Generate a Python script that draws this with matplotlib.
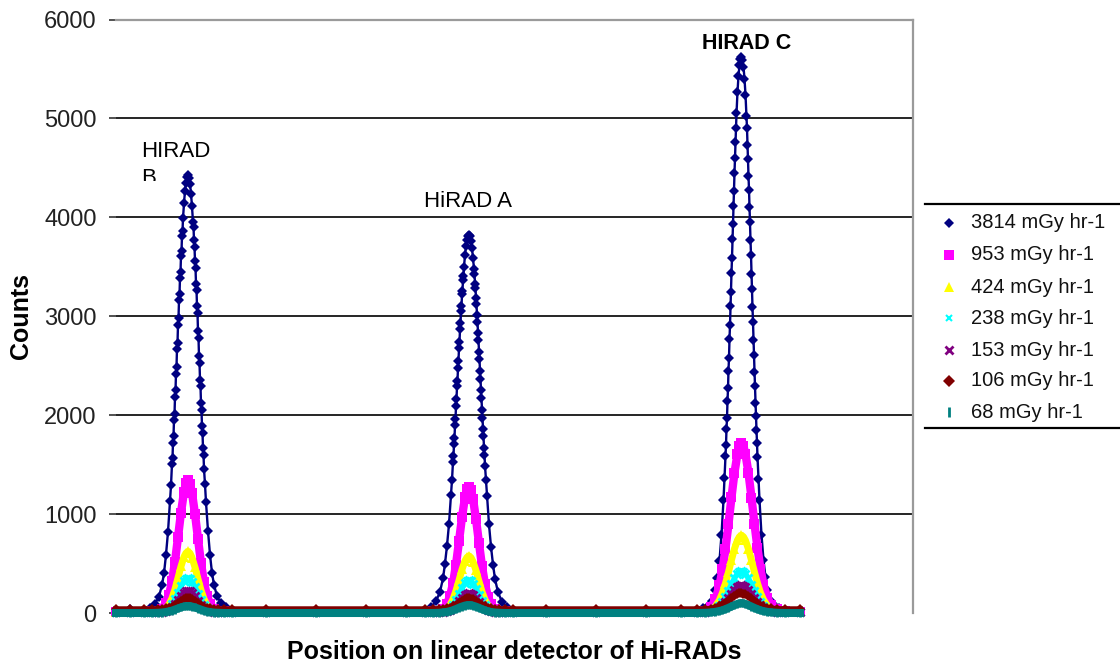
import numpy as np
import matplotlib
matplotlib.use("Agg")
import matplotlib.pyplot as plt
from matplotlib.lines import Line2D
from matplotlib.transforms import Bbox

plt.rcParams['font.family'] = ['Liberation Sans', 'DejaVu Sans']

# ---------------- data ----------------
series_labels = ["3814 mGy hr-1", "953 mGy hr-1", "424 mGy hr-1", "238 mGy hr-1",
                 "153 mGy hr-1", "106 mGy hr-1", "68 mGy hr-1"]
peak_labels = ["HIRAD", "HiRAD A", "HIRAD C"]
y_ticks = [0, 1000, 2000, 3000, 4000, 5000, 6000]

# detector channel of each Hi-RAD peak centre
peak_channels = [72, 353, 625.5]
# channels read around each peak (relative to centre)
fine_offsets = [-44, -38, -33, -29, -26, -24, -22, -20, -18, -17,
                -16, -15.5, -15, -14.5, -14, -13.5, -13, -12.5, -12, -11.5, -11, -10.5,
                -10, -9.5, -9, -8.5, -8, -7.5, -7, -6.5, -6, -5.5, -5,
                -4, -3, -2, -1, 0, 1, 2, 3, 4,
                5, 5.5, 6, 6.5, 7, 7.5, 8, 8.5, 9, 9.5, 10, 10.5, 11, 11.5,
                12, 12.5, 13, 13.5, 14, 14.5, 15, 15.5, 16,
                17, 18, 20, 22, 24, 26, 29, 33, 38, 44]
coarse_offsets = [-44, -36, -30, -26, -22, -19, -16, -13, -10, -7, -4, -2, 0,
                  2, 4, 7, 10, 13, 16, 19, 22, 26, 30, 36, 44]
lead_channels = [0, 14]
gap1_channels = [150, 200, 250, 290]
gap2_channels = [430, 480, 530, 565]
tail_channels = [684]

# counts: lead, peak B, gap, peak A, gap, peak C, tail
counts_3814 = (
    [22, 38] +
    [30, 55, 95, 165, 285, 400, 590, 820, 1130, 1290,
     1510, 1570, 1720, 1790, 1950, 2010, 2180, 2250, 2420, 2490, 2670, 2730,
     2910, 2980, 3160, 3220, 3390, 3450, 3610, 3660, 3810, 3860, 3990,
     4140, 4270, 4350, 4410, 4425, 4400, 4340, 4240, 4110,
     3950, 3900, 3770, 3700, 3560, 3490, 3330, 3270, 3100, 3030, 2850, 2780,
     2600, 2530, 2360, 2290, 2120, 2050, 1890, 1820, 1670, 1600, 1460,
     1300, 1120, 830, 590, 405, 285, 170, 100, 60, 30] +
    [30, 22, 28, 24] +
    [28, 60, 118, 215, 350, 500, 680, 900, 1190, 1345,
     1530, 1590, 1710, 1770, 1900, 1960, 2090, 2160, 2290, 2350, 2480, 2550,
     2680, 2740, 2870, 2930, 3050, 3100, 3220, 3260, 3370, 3410, 3500,
     3620, 3710, 3775, 3815, 3825, 3810, 3760, 3690, 3590,
     3480, 3430, 3330, 3285, 3180, 3120, 3010, 2945, 2830, 2760, 2640, 2565,
     2445, 2370, 2250, 2170, 2050, 1975, 1860, 1785, 1670, 1600, 1490,
     1340, 1180, 895, 670, 490, 345, 210, 112, 58, 27] +
    [26, 20, 30, 25] +
    [28, 50, 72, 125, 230, 355, 530, 790, 1140, 1360,
     1590, 1700, 1860, 1970, 2140, 2270, 2450, 2580, 2770, 2910, 3100, 3250,
     3440, 3590, 3780, 3930, 4110, 4270, 4450, 4600, 4760, 4900, 5050,
     5270, 5430, 5540, 5600, 5625, 5595, 5520, 5400, 5240,
     5020, 4900, 4730, 4590, 4420, 4280, 4100, 3950, 3770, 3620, 3430, 3280,
     3090, 2940, 2755, 2610, 2435, 2290, 2125, 1990, 1845, 1720, 1580,
     1355, 1140, 790, 535, 360, 235, 130, 78, 52, 30] +
    [22]
)
counts_953 = (
    [15, 15] +
    [15, 18, 25, 45, 100, 180, 320, 520, 765, 1015, 1225, 1310, 1340,
     1305, 1215, 1000, 750, 505, 310, 175, 95, 42, 24, 17, 14] +
    [14, 14, 14, 14] +
    [14, 16, 22, 40, 92, 170, 300, 490, 725, 968, 1170, 1250, 1278,
     1240, 1155, 950, 705, 475, 290, 165, 90, 40, 22, 16, 14] +
    [14, 14, 14, 14] +
    [15, 25, 65, 140, 280, 440, 650, 900, 1170, 1420, 1610, 1690, 1715,
     1685, 1605, 1415, 1165, 900, 655, 445, 285, 150, 80, 40, 20] +
    [15]
)
counts_424 = (
    [12, 12] +
    [12, 13, 16, 25, 48, 88, 150, 242, 355, 472, 568, 607, 622,
     604, 560, 462, 344, 232, 142, 82, 45, 22, 15, 12, 12] +
    [12, 12, 12, 12] +
    [12, 13, 15, 24, 45, 82, 140, 226, 330, 440, 528, 563, 577,
     560, 520, 430, 320, 216, 135, 78, 42, 22, 15, 13, 12] +
    [12, 12, 12, 12] +
    [12, 16, 35, 68, 132, 205, 300, 415, 537, 650, 737, 772, 786,
     770, 733, 645, 532, 412, 300, 205, 135, 72, 40, 22, 14] +
    [12]
)
counts_238 = (
    [10, 10] +
    [10, 11, 13, 18, 30, 52, 88, 140, 202, 268, 320, 343, 352,
     340, 316, 260, 194, 131, 82, 48, 28, 16, 12, 10, 10] +
    [10, 10, 10, 10] +
    [10, 11, 13, 18, 29, 50, 83, 132, 190, 252, 302, 323, 331,
     320, 298, 246, 183, 124, 78, 46, 27, 16, 12, 11, 10] +
    [10, 10, 10, 10] +
    [10, 13, 22, 40, 74, 112, 165, 226, 292, 352, 399, 418, 426,
     417, 396, 349, 288, 223, 164, 112, 74, 42, 25, 15, 11] +
    [10]
)
counts_153 = (
    [8, 8] +
    [8, 9, 11, 14, 22, 35, 58, 92, 131, 172, 206, 220, 226,
     219, 203, 167, 125, 85, 54, 33, 20, 13, 10, 9, 8] +
    [8, 8, 8, 8] +
    [8, 9, 10, 13, 20, 32, 52, 82, 117, 154, 183, 196, 201,
     194, 180, 149, 111, 76, 48, 30, 19, 13, 10, 9, 8] +
    [8, 8, 8, 8] +
    [8, 10, 16, 28, 50, 76, 110, 150, 194, 234, 265, 278, 284,
     277, 263, 232, 192, 148, 110, 76, 50, 30, 18, 11, 9] +
    [8]
)
counts_106 = (
    [40, 40] +
    [40, 40, 40, 42, 47, 54, 65, 81, 102, 123, 140, 147, 151,
     147, 139, 121, 100, 80, 64, 53, 47, 42, 40, 40, 40] +
    [40, 40, 40, 40] +
    [40, 40, 40, 42, 48, 55, 66, 83, 104, 124, 141, 148, 150,
     146, 138, 122, 102, 82, 66, 54, 47, 42, 41, 40, 40] +
    [40, 40, 40, 40] +
    [40, 41, 45, 53, 66, 81, 101, 125, 150, 173, 191, 198, 200,
     197, 189, 171, 148, 123, 100, 81, 66, 54, 46, 42, 40] +
    [40]
)
counts_68 = (
    [0, 0] +
    [0, 0, 2, 5, 10, 16, 24, 35, 46, 57, 66, 69, 70,
     69, 65, 56, 45, 34, 23, 15, 9, 4, 2, 0, 0] +
    [0, 0, 0, 0] +
    [0, 0, 2, 6, 11, 18, 28, 40, 53, 65, 75, 79, 80,
     79, 74, 64, 52, 39, 27, 17, 10, 5, 2, 0, 0] +
    [0, 0, 0, 0] +
    [0, 2, 6, 12, 20, 28, 39, 52, 66, 80, 92, 98, 100,
     98, 91, 79, 65, 51, 38, 27, 19, 11, 6, 2, 0] +
    [0]
)

all_counts = [counts_3814, counts_953, counts_424, counts_238,
              counts_153, counts_106, counts_68]


def build_channels(offsets):
    parts = [lead_channels]
    for centre, gap in zip(peak_channels, [gap1_channels, gap2_channels, tail_channels]):
        parts.append([centre + o for o in offsets])
        parts.append(gap)
    return np.concatenate(parts)


fine_x = build_channels(fine_offsets)
coarse_x = build_channels(coarse_offsets)

styles = [
    dict(color='#000080', lw=1.7, marker='D', ms=5.0, mew=0),
    dict(color='#FF00FF', lw=6.0, marker='s', ms=6.5, mew=0),
    dict(color='#FFFF00', lw=5.0, marker='^', ms=6.5, mew=0),
    dict(color='#00FFFF', lw=4.0, marker='x', ms=5.5, mew=2),
    dict(color='#800080', lw=4.0, marker='x', ms=5.5, mew=2),
    dict(color='#800000', lw=4.0, marker='D', ms=5, mew=0),
    dict(color='#008080', lw=5.8, marker='|', ms=5.5, mew=2),
]
legend_markers = [
    dict(marker='D', ms=5.5, mew=0),
    dict(marker='s', ms=7, mew=0),
    dict(marker='^', ms=7, mew=0),
    dict(marker='x', ms=5, mew=1.5),
    dict(marker='x', ms=5.5, mew=2),
    dict(marker='D', ms=6, mew=0),
    dict(marker='|', ms=7, mew=2),
]

# ---------------- figure ----------------
W, H = 1120, 664
fig = plt.figure(figsize=(W / 100, H / 100), dpi=100)
ax = fig.add_axes([116 / W, 1 - 613 / H, (913 - 116) / W, (613 - 19.5) / H])


def fx(px):
    return px / W


def fy(py):
    return 1 - py / H


for i, (counts, st) in enumerate(zip(all_counts, styles)):
    xs = fine_x if len(counts) == len(fine_x) else coarse_x
    assert len(xs) == len(counts), (i, len(xs), len(counts))
    ax.plot(xs, counts, color=st['color'], lw=st['lw'], marker=st['marker'],
            ms=st['ms'], mew=st['mew'], mec=st['color'], mfc=st['color'],
            clip_on=False, zorder=2 + i, solid_joinstyle='round')

ax.set_xlim(0, 797)
ax.set_ylim(0, 6000)
ax.set_yticks(y_ticks)
ax.set_yticklabels([str(t) for t in y_ticks], fontsize=17, color='#222222')
ax.set_xticks([])
ax.tick_params(axis='y', length=5, width=1.2, color='#333333', pad=9)
for t in y_ticks[1:-1]:
    ax.axhline(t, color='black', lw=1.2, zorder=1)
for side in ['left', 'bottom']:
    ax.spines[side].set_visible(False)
for side in ['top', 'right']:
    ax.spines[side].set_color('#9a9a9a')
    ax.spines[side].set_linewidth(1.6)

# axis titles
fig.text(fx(514.5), fy(652), "Position on linear detector of Hi-RADs",
         ha='center', va='center', fontsize=18, fontweight='bold')
fig.text(fx(21), fy(316), "Counts", rotation=90, ha='center', va='center',
         fontsize=18, fontweight='bold')

# peak annotations
fig.text(fx(141), fy(157), peak_labels[0], ha='left', va='baseline', fontsize=16)
tb = fig.text(fx(141), fy(184), "B", ha='left', va='baseline', fontsize=16)
tb.set_clip_on(True)
tb.set_clip_box(Bbox.from_extents(0, H - 181, W, H))
fig.text(fx(468), fy(207), peak_labels[1], ha='center', va='baseline', fontsize=16)
fig.text(fx(746.5), fy(49), peak_labels[2], ha='center', va='baseline', fontsize=15.5,
         fontweight='bold')

# legend
leg_y = [223, 255, 287, 318, 350, 381, 412]
for lab, st, lm, y in zip(series_labels, styles, legend_markers, leg_y):
    fig.add_artist(Line2D([fx(949)], [fy(y)], transform=fig.transFigure,
                          linestyle='none', marker=lm['marker'], ms=lm['ms'],
                          mew=lm['mew'], color=st['color'], mec=st['color']))
    fig.text(fx(971), fy(y), lab, ha='left', va='center', fontsize=14.5, color='#111111')
for y in [204, 428]:
    fig.add_artist(Line2D([fx(925), 1.0], [fy(y), fy(y)], transform=fig.transFigure,
                          color='black', lw=1.6))

fig.savefig("out.png", dpi=100)
